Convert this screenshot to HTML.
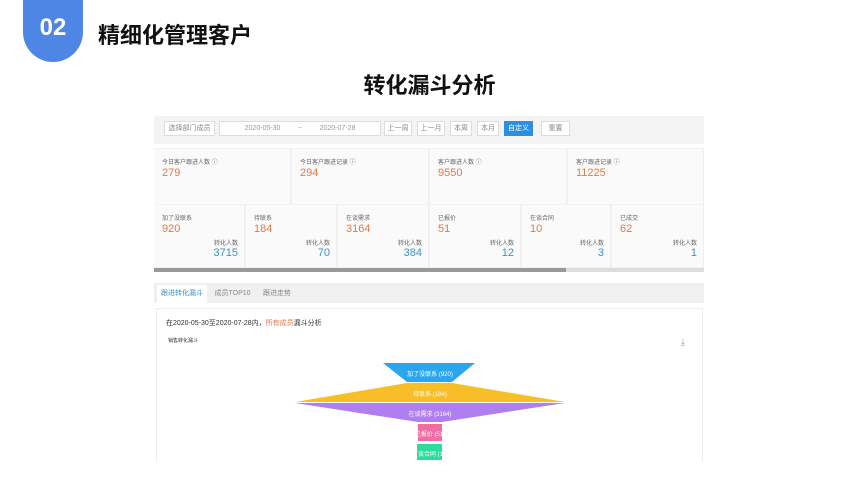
<!DOCTYPE html>
<html><head><meta charset="utf-8"><style>
*{margin:0;padding:0;box-sizing:border-box}
body{width:859px;height:483px;background:#fff;position:relative;overflow:hidden;font-family:"Liberation Sans","Noto Sans CJK SC",sans-serif}
.a{position:absolute}
.badge{left:23px;top:0;width:60px;height:62px;background:#4e86e6;border-radius:0 0 30px 30px;color:#fff;font-weight:bold;font-size:24px;text-align:center;line-height:56px}
.h1{left:98px;top:18px;font-size:22px;font-weight:bold;color:#111}
.h2{left:0;width:859px;top:68px;text-align:center;font-size:22px;font-weight:bold;color:#111}
.btn{top:121px;height:15px;border:1px solid #ddd;background:#fff;font-size:7px;color:#888;text-align:center;line-height:13px}
.cell{background:#fafafa;border-right:1px solid #eee;font-size:6px;color:#666}
.cell .n{color:#e07a45;font-size:11px;position:absolute;left:8px;top:18px}
.cell .l{position:absolute;left:8px;top:8px}
.cell .r{position:absolute;right:6px;top:33px}
.cell .b{position:absolute;right:6px;top:42px;color:#3a93c9;font-size:11px}
.fl{font-size:6px;color:#fff;text-align:center;position:absolute}
</style></head><body>
<div class="a badge">02</div>
<div class="a h1">精细化管理客户</div>
<div class="a h2">转化漏斗分析</div>
<div class="a" style="left:154px;top:116px;width:550px;height:28px;background:#f3f3f3"></div>
<div class="a btn" style="left:164px;width:51px">选择部门成员</div>
<div class="a btn" style="left:219px;width:162px;color:#999">2020-05-30 &nbsp; &nbsp; &nbsp; &nbsp; ~ &nbsp; &nbsp; &nbsp; &nbsp; 2020-07-28</div>
<div class="a btn" style="left:384px;width:28px">上一周</div>
<div class="a btn" style="left:417px;width:28px">上一月</div>
<div class="a btn" style="left:450px;width:22px">本周</div>
<div class="a btn" style="left:477px;width:22px">本月</div>
<div class="a btn" style="left:504px;width:29px;background:#2d8fe0;border-color:#2d8fe0;color:#fff">自定义</div>
<div class="a btn" style="left:541px;width:29px">重置</div>
<div class="a" style="left:154px;top:148px;width:550px;height:120px;background:#f2f2f2"></div>
<div class="a cell" style="left:154px;top:149px;width:137px;height:55px"><span class="l">今日客户跟进人数 ⓘ</span><span class="n">279</span></div>
<div class="a cell" style="left:292px;top:149px;width:137px;height:55px"><span class="l">今日客户跟进记录 ⓘ</span><span class="n">294</span></div>
<div class="a cell" style="left:430px;top:149px;width:137px;height:55px"><span class="l">客户跟进人数 ⓘ</span><span class="n">9550</span></div>
<div class="a cell" style="left:568px;top:149px;width:136px;height:55px"><span class="l">客户跟进记录 ⓘ</span><span class="n">11225</span></div>
<div class="a cell" style="left:154px;top:205px;width:91px;height:62px"><span class="l">加了没联系</span><span class="n">920</span><span class="r">转化人数</span><span class="b">3715</span></div>
<div class="a cell" style="left:246px;top:205px;width:91px;height:62px"><span class="l">待联系</span><span class="n">184</span><span class="r">转化人数</span><span class="b">70</span></div>
<div class="a cell" style="left:338px;top:205px;width:91px;height:62px"><span class="l">在谈需求</span><span class="n">3164</span><span class="r">转化人数</span><span class="b">384</span></div>
<div class="a cell" style="left:430px;top:205px;width:91px;height:62px"><span class="l">已报价</span><span class="n">51</span><span class="r">转化人数</span><span class="b">12</span></div>
<div class="a cell" style="left:522px;top:205px;width:89px;height:62px"><span class="l">在谈合同</span><span class="n">10</span><span class="r">转化人数</span><span class="b">3</span></div>
<div class="a cell" style="left:612px;top:205px;width:92px;height:62px"><span class="l">已成交</span><span class="n">62</span><span class="r">转化人数</span><span class="b">1</span></div>
<div class="a" style="left:154px;top:268px;width:550px;height:4px;background:#ddd"></div>
<div class="a" style="left:154px;top:268px;width:412px;height:4px;background:#999"></div>
<div class="a" style="left:154px;top:283px;width:550px;height:20px;background:#f0f0f0"></div>
<div class="a" style="left:157px;top:285px;width:50px;height:18px;background:#fff;font-size:7px;color:#3a93c9;text-align:center;line-height:17px">跟进转化漏斗</div>
<div class="a" style="left:210px;top:285px;width:45px;height:18px;font-size:7px;color:#888;text-align:center;line-height:17px">成员TOP10</div>
<div class="a" style="left:258px;top:285px;width:38px;height:18px;font-size:7px;color:#888;text-align:center;line-height:17px">跟进走势</div>
<div class="a" style="left:156px;top:308px;width:547px;height:154px;border:1px solid #eee;border-bottom:none;background:#fff"></div>
<div class="a" style="left:166px;top:318px;font-size:7px;color:#333">在2020-05-30至2020-07-28内，<span style="color:#e07a45">所有成员</span>漏斗分析</div>
<div class="a" style="left:168px;top:337px;font-size:5px;color:#333">销售转化漏斗</div>
<div class="a" style="left:681px;top:337px;font-size:9px;color:#999">⤓</div>
<svg class="a" style="left:0;top:0" width="859" height="483">
<polygon points="383,363 475,363 452,382 407,382" fill="#2aa6ee"/>
<polygon points="407,383 452,383 565,402 295,402" fill="#f7be27"/>
<polygon points="295,403 565,403 442,422 418,422" fill="#b07ef0"/>
<rect x="418" y="424" width="24" height="17" fill="#f06ca3"/>
<rect x="417" y="444" width="25" height="16" fill="#2cdc9c"/>
</svg>
<div class="fl" style="left:380px;width:100px;top:369px">加了没联系 (920)</div>
<div class="fl" style="left:380px;width:100px;top:389px">待联系 (184)</div>
<div class="fl" style="left:380px;width:100px;top:409px">在谈需求 (3164)</div>
<div class="fl" style="left:380px;width:100px;top:429px">已报价 (51)</div>
<div class="fl" style="left:380px;width:100px;top:449px">在谈合同 (10)</div>
</body></html>
